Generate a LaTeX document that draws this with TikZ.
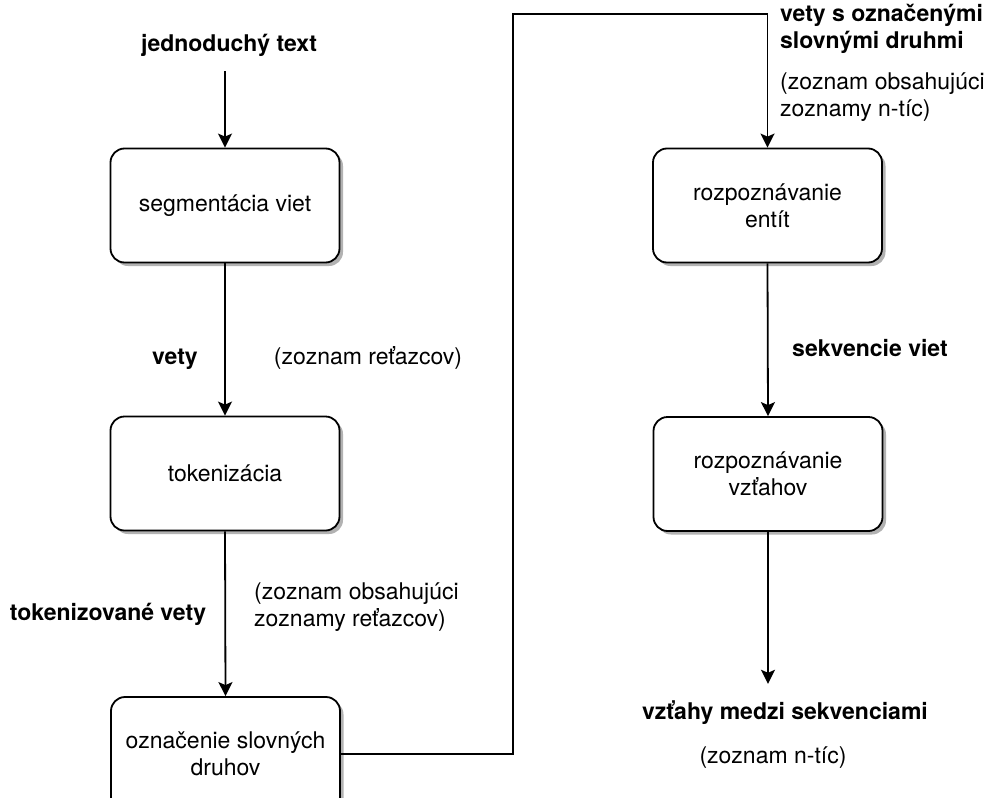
\documentclass[tikz,border=0pt]{standalone}
\usepackage{fontspec}
\setmainfont{TeX Gyre Heros}
\usetikzlibrary{arrows.meta,shadows}
\begin{document}
\begin{tikzpicture}[x=1pt,y=-1pt,
  proc/.style={draw, line width=1.8pt, rounded corners=14pt, minimum width=229pt, minimum height=114pt,
    fill=white, align=center, font=\fontsize{23}{27}\selectfont,
    drop shadow={shadow xshift=3.5pt, shadow yshift=-3.5pt, fill=black!30, opacity=1}},
  lbl/.style={font=\fontsize{23}{27}\selectfont\bfseries, inner sep=0pt, text height=17pt, text depth=5pt},
  note/.style={font=\fontsize{23}{27}\selectfont, inner sep=0pt, text height=17pt, text depth=5pt},
  conn/.style={line width=1.8pt, -{Stealth[length=14pt,width=14pt,inset=3pt]}}
]
\useasboundingbox (0,0) rectangle (986,798);

\node[proc] (b1) at (225,205.5) {segmentácia viet};
\node[proc] (b2) at (225,473.5) {tokenizácia};
\node[proc] (b3) at (225.5,754) {označenie slovných\\druhov};
\node[proc] (b4) at (767.5,205.5) {rozpoznávanie\\entít};
\node[proc] (b5) at (768,474) {rozpoznávanie\\vzťahov};

\node[lbl] (t0) at (229,45) {jednoduchý text};
\node[lbl] (l1) at (175,358) {vety};
\node[note] (n1) at (368,358) {(zoznam reťazcov)};
\node[lbl] (l2) at (108,614) {tokenizované vety};
\node[note, align=left, anchor=west] (n2) at (254,620) {(zoznam obsahujúci\\zoznamy reťazcov)};
\node[lbl, align=left, anchor=west] (l3) at (780,42) {vety s označenými\\slovnými druhmi};
\node[note, align=left, anchor=west] (n3) at (780,110) {(zoznam obsahujúci\\zoznamy n-tíc)};
\node[lbl] (l4) at (870,350) {sekvencie viet};
\node[lbl] (t5) at (785,713) {vzťahy medzi sekvenciami};
\node[note] (n5) at (773,757) {(zoznam n-tíc)};

\coordinate (c1) at (513,14);

\draw[conn, shorten <=15pt] (t0.south -| b1.north) -- (b1.north);
\draw[conn] (b1.south) -- (b2.north);
\draw[conn] (b2.south) -- (b3.north);
\draw[conn] (b3.east) -| (c1) -| (b4.north);
\draw[conn] (b4.south) -- (b5.north);
\draw[conn, shorten >=18pt] (b5.south) -- (t5.north -| b5.south);
\end{tikzpicture}
\end{document}
